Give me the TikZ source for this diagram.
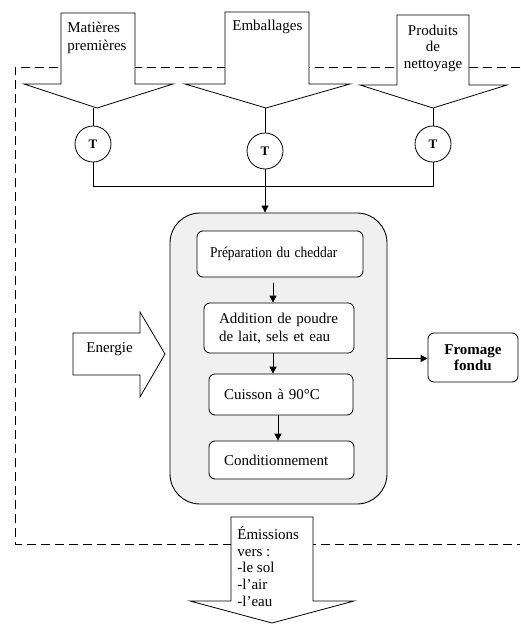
\documentclass[tikz,border=0pt]{standalone}
\usepackage{fontspec}
\usepackage{graphicx}
\setmainfont{Liberation Serif}
\usetikzlibrary{arrows.meta,calc}
\begin{document}
\begin{tikzpicture}[x=1pt,y=-1pt,line width=0.8pt,
  frame/.style={dash pattern=on 9pt off 5pt},
  bigarrow/.style={draw,fill=white,line join=miter},
  lbl/.style={inner sep=0pt,font=\fontsize{15}{17}\selectfont},
  tcirc/.style={circle,draw,fill=white,minimum size=36pt,inner sep=0pt,font=\bfseries\fontsize{13}{15}\selectfont},
  stepbox/.style={draw,fill=white,rounded corners=6pt,align=left,inner ysep=0pt,font=\fontsize{15}{18}\selectfont},
  conn/.style={-{Triangle[length=7pt,width=7pt]}}
]
\useasboundingbox (0,0) rectangle (520,624);
% dashed frame
\draw[frame] (520,67) -- (15,67) -- (15,544) -- (520,544);
% input arrows
\coordinate (a1tip) at (97,108);
\coordinate (a2tip) at (266,108);
\coordinate (a3tip) at (433,108);
\draw[bigarrow] (61,13) -- (135,13) -- (135,84) -- (173,84) -- (a1tip) -- (24,84) -- (61,84) -- cycle;
\draw[bigarrow] (225,12) -- (309,12) -- (309,84) -- (350,84) -- (a2tip) -- (185,84) -- (225,84) -- cycle;
\draw[bigarrow] (397,15) -- (469,15) -- (469,85) -- (507,85) -- (a3tip) -- (360,85) -- (397,85) -- cycle;
\node[lbl,anchor=north west,align=left] (l1) at (67,21.5) {Matières\\[1pt]premières};
\node[lbl,anchor=north west] (l2) at (232,19.5) {Emballages};
\node[lbl,anchor=north,align=center,font=\fontsize{15}{16.5}\selectfont] (l3) at (433,24.5) {Produits\\de\\nettoyage};
% T circles
\node[tcirc] (t1) at (93,144) {T};
\node[tcirc] (t2) at (265,151) {T};
\node[tcirc] (t3) at (433,144) {T};
\draw (t1.north) -- (t1.north |- a1tip);
\draw (t2.north) -- (t2.north |- a2tip);
\draw (t3.north) -- (t3.north |- a3tip);
\coordinate (bus) at (265,186);
\draw (t1.south) -- (t1.south |- bus) -- (t3.south |- bus) -- (t3.south);
% process box
\node[draw,fill=black!6,rounded corners=30pt,minimum width=217pt,minimum height=291pt,line width=0.9pt] (proc) at (278.5,358.5) {};
\draw[conn] (t2.south) -- (t2.south |- proc.north);
\node[stepbox,minimum height=46pt,text width=140pt,inner xsep=13pt] (p1) at (280,254) {\scalebox{0.9}[1]{Préparation du cheddar}};
\node[stepbox,minimum height=50pt,text width=120pt,inner xsep=15pt] (p2) at (279,328) {Addition de poudre\\de lait, sels et eau};
\node[stepbox,minimum height=41pt,text width=114pt,inner xsep=15pt] (p3) at (281,394.5) {Cuisson à 90°C};
\node[stepbox,minimum height=38pt,text width=115pt,inner xsep=15pt] (p4) at (281.5,460) {Conditionnement};
\draw[conn,shorten <=6pt] ([xshift=-7pt]p1.south) -- ([xshift=-6pt]p2.north);
\draw[conn] ([xshift=-6pt]p2.south) -- ([xshift=-8pt]p3.north);
\draw[conn] ([xshift=-3pt]p3.south) -- ([xshift=-3.5pt]p4.north);
% energy arrow
\coordinate (etip) at (165,354);
\draw[bigarrow] (73,333) -- (140,333) -- (140,312) -- (etip) -- (140,397) -- (140,375) -- (73,375) -- cycle;
\node[lbl,anchor=base west] (le) at (86,352) {Energie};
% output
\node[draw,rounded corners=6pt,minimum width=90pt,minimum height=49pt,align=center,inner sep=0pt,font=\bfseries\fontsize{15}{16}\selectfont] (fro) at (473,357.5) {Fromage\\fondu};
\draw[conn] (proc.east) -- (fro.west |- proc.east);
% emissions arrow
\coordinate (emtip) at (272,623);
\draw[bigarrow] (231,517) -- (313,517) -- (313,601) -- (354,601) -- (emtip) -- (190,601) -- (231,601) -- cycle;
\node[lbl,anchor=north west,align=left,font=\fontsize{15}{16.8}\selectfont] (lem) at (237,526) {Émissions\\vers :\\-le sol\\-l’air\\-l’eau};
\end{tikzpicture}
\end{document}
